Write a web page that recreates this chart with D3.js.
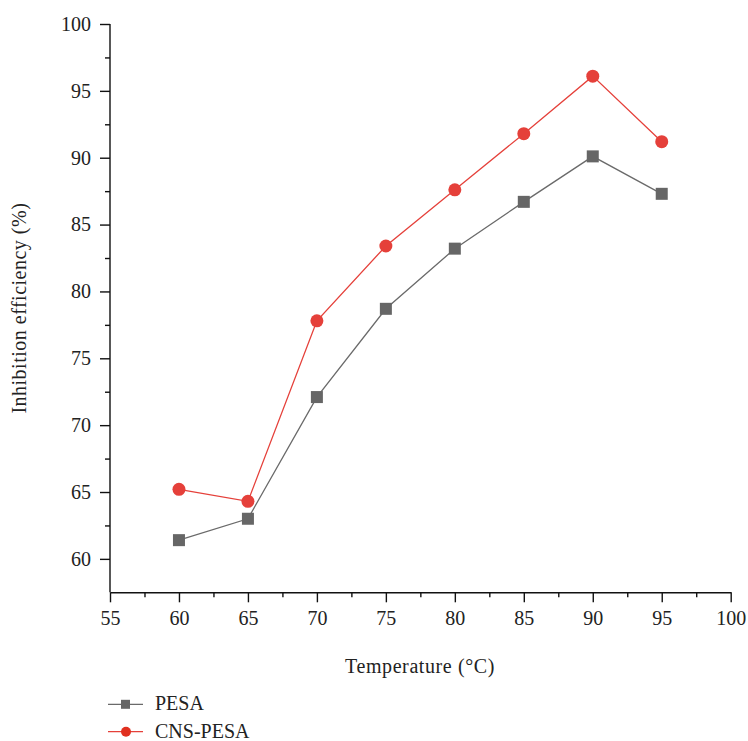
<!DOCTYPE html>
<html><head><meta charset="utf-8">
<script src="https://cdn.jsdelivr.net/npm/d3@7"></script>
<style>body{margin:0;background:#fff}svg{display:block}text{font-family:"Liberation Serif","DejaVu Serif",serif;fill:#222}</style>
</head><body><svg id="c" width="748" height="741"></svg>
<script>
const temps = [60, 65, 70, 75, 80, 85, 90, 95];
const pesa = [61.4, 63.0, 72.1, 78.7, 83.2, 86.7, 90.1, 87.3];
const cnsPesa = [65.2, 64.3, 77.8, 83.4, 87.6, 91.8, 96.1, 91.2];
const xTicks = [55, 60, 65, 70, 75, 80, 85, 90, 95, 100];
const yTicks = [60, 65, 70, 75, 80, 85, 90, 95, 100];
const seriesNames = ["PESA", "CNS-PESA"];

const svg = d3.select("#c");
const x = d3.scaleLinear().domain([55, 100]).range([110, 730.7]);
const y = d3.scaleLinear().domain([57.5, 100]).range([592.3, 24]);
const grey = "#666666", red = "#e5403a";

const xAxis = svg.append("g").attr("transform", `translate(0,${y(57.5)})`)
  .call(d3.axisBottom(x).tickValues(xTicks).tickSize(10).tickSizeOuter(0).tickPadding(9));
const xMinor = svg.append("g").attr("transform", `translate(0,${y(57.5)})`)
  .call(d3.axisBottom(x).tickValues(xTicks.slice(0,-1).map(v=>v+2.5)).tickSize(5).tickFormat(""));
const yAxis = svg.append("g").attr("transform", `translate(${x(55)},0)`)
  .call(d3.axisLeft(y).tickValues(yTicks).tickSize(10).tickSizeOuter(0).tickPadding(9));
const yMinor = svg.append("g").attr("transform", `translate(${x(55)},0)`)
  .call(d3.axisLeft(y).tickValues(yTicks.slice(0,-1).map(v=>v+2.5)).tickSize(5).tickFormat(""));
[xMinor, yMinor].forEach(g=>g.select(".domain").remove());
[xAxis, yAxis, xMinor, yMinor].forEach(g=>{
  g.selectAll("line,path").attr("stroke","#111").attr("stroke-width",1.4);
  g.selectAll("text").style("font-size","20px").attr("fill","#222");
});
yAxis.select(".domain").attr("d", `M0,${y(100)}V${y(57.5)}`);

svg.append("text").attr("x", 420).attr("y", 673).attr("text-anchor","middle")
  .style("font-size","20px").style("letter-spacing","0.6px").text("Temperature (°C)");
svg.append("text").attr("transform", `translate(26,${y(78.75)}) rotate(-90)`).attr("text-anchor","middle")
  .style("font-size","20px").style("letter-spacing","0.5px").text("Inhibition efficiency (%)");

const line = d3.line().x((d,i)=>x(temps[i])).y(d=>y(d));
svg.append("path").datum(pesa).attr("d", line).attr("fill","none").attr("stroke","#6a6a6a").attr("stroke-width",1.3);
svg.append("path").datum(cnsPesa).attr("d", line).attr("fill","none").attr("stroke",red).attr("stroke-width",1.3);

svg.selectAll(".sq").data(pesa).join("rect")
  .attr("x",(d,i)=>x(temps[i])-6).attr("y",d=>y(d)-6).attr("width",12).attr("height",12).attr("fill",grey);
svg.selectAll(".ci").data(cnsPesa).join("circle")
  .attr("cx",(d,i)=>x(temps[i])).attr("cy",d=>y(d)).attr("r",6.5).attr("fill",red);

const lg = svg.append("g");
seriesNames.forEach((n,i)=>{
  const yy = 704.3 + i*27.4;
  lg.append("line").attr("x1",108).attr("x2",143).attr("y1",yy).attr("y2",yy)
    .attr("stroke", i===0 ? "#6a6a6a" : red).attr("stroke-width",1.3);
  if(i===0) lg.append("rect").attr("x",121).attr("y",yy-4.5).attr("width",9).attr("height",9).attr("fill",grey);
  else lg.append("circle").attr("cx",126).attr("cy",yy).attr("r",5).attr("fill","#e0301f");
  lg.append("text").attr("x",155).attr("y",yy+6).style("font-size","20px").text(n);
});
</script></body></html>
